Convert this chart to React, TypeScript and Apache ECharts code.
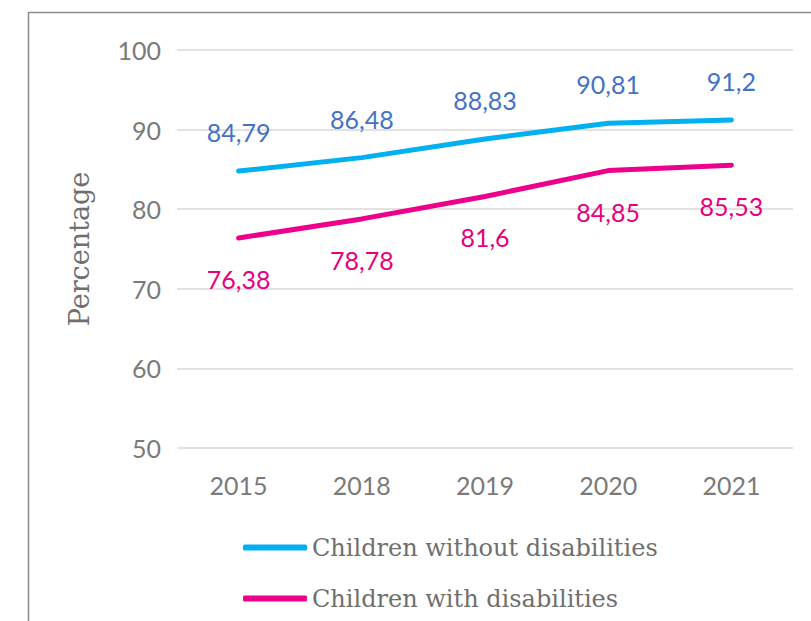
import React, { useEffect, useRef } from "react";
import * as echarts from "echarts";

const categories = ["2015", "2018", "2019", "2020", "2021"];
const withoutDisabilities = [84.79, 86.48, 88.83, 90.81, 91.2];
const withDisabilities = [76.38, 78.78, 81.6, 84.85, 85.53];
const seriesNames = ["Children without disabilities", "Children with disabilities"];
const seriesColors = ["#00b0f0", "#ec008c"];

const fmt = (v: number) => String(v).replace(".", ",");

export default function App() {
  const ref = useRef<HTMLDivElement>(null);
  useEffect(() => {
    const chart = echarts.init(ref.current!, undefined, { renderer: "svg" });
    chart.setOption({
      animation: false,
      backgroundColor: "#ffffff",
      graphic: [
        {
          type: "rect",
          shape: { x: 28.5, y: 12.5, width: 900, height: 700 },
          style: { fill: "none", stroke: "#8c8c8c", lineWidth: 1.5 },
          silent: true,
        },
      ],
      grid: { left: 177, right: 18, top: 50, bottom: 173 },
      legend: {
        orient: "vertical",
        left: 238,
        top: 529,
        itemWidth: 64,
        itemHeight: 6,
        itemGap: 24,
        icon: "roundRect",
        textStyle: {
          fontFamily: "DejaVu Serif",
          fontSize: 24,
          color: "#6f6f6f",
          lineHeight: 27,
        },
        data: seriesNames.map((n, i) => ({
          name: n,
          itemStyle: { opacity: 1, color: seriesColors[i] },
        })),
      },
      xAxis: {
        type: "category",
        data: categories,
        boundaryGap: true,
        axisLine: { show: false },
        axisTick: { show: false },
        axisLabel: {
          margin: 24,
          fontFamily: "Lato",
          fontSize: 25,
          color: "#7a7a7a",
        },
      },
      yAxis: {
        type: "value",
        min: 50,
        max: 100,
        interval: 10,
        name: "Percentage",
        nameLocation: "middle",
        nameGap: 84,
        nameTextStyle: {
          fontFamily: "DejaVu Serif",
          fontSize: 27,
          color: "#6f6f6f",
        },
        axisLine: { show: false },
        axisTick: { show: false },
        axisLabel: {
          margin: 16,
          fontFamily: "Lato",
          fontSize: 25,
          color: "#7a7a7a",
        },
        splitLine: { lineStyle: { color: "#d9d9d9", width: 1.5 } },
      },
      series: [
        {
          name: seriesNames[0],
          type: "line",
          data: withoutDisabilities,
          symbol: "circle",
          symbolSize: 1,
          itemStyle: { opacity: 0, color: seriesColors[0] },
          color: seriesColors[0],
          lineStyle: { width: 5, color: seriesColors[0], cap: "round" },
          label: {
            show: true,
            position: "top",
            distance: 26,
            fontFamily: "Lato",
            fontSize: 25,
            color: "#4472c4",
            opacity: 1,
            formatter: (p: any) => fmt(p.value),
          },
        },
        {
          name: seriesNames[1],
          type: "line",
          data: withDisabilities,
          symbol: "circle",
          symbolSize: 1,
          itemStyle: { opacity: 0, color: seriesColors[1] },
          color: seriesColors[1],
          lineStyle: { width: 5, color: seriesColors[1], cap: "round" },
          label: {
            show: true,
            position: "bottom",
            distance: 28,
            fontFamily: "Lato",
            fontSize: 25,
            color: "#e6007e",
            opacity: 1,
            formatter: (p: any) => fmt(p.value),
          },
        },
      ],
    });
    return () => chart.dispose();
  }, []);
  return (
    <div
      ref={ref}
      style={{ position: "absolute", left: 0, top: 0, width: 811, height: 621 }}
    />
  );
}
